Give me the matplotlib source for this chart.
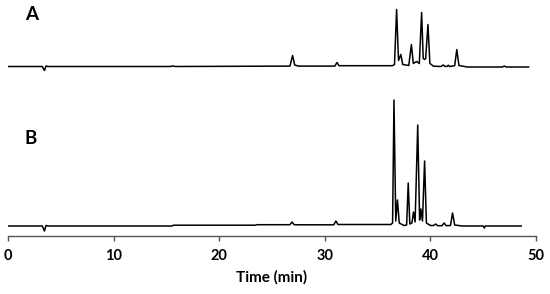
import matplotlib
matplotlib.use("Agg")
import matplotlib.pyplot as plt

# Trace A: (time in min, signal) vertices (signal in arbitrary units)
time_a = [0, 3.25, 3.45, 3.6, 3.8, 15.4, 15.6, 15.8, 26.7, 26.95, 27.15, 27.5, 30.95, 31.15, 31.35,
          36.4, 36.6, 36.8, 36.98, 37.2, 37.38, 37.95, 38.2, 38.38, 38.7, 38.95, 39.17, 39.32,
          39.45, 39.55, 39.77, 39.95, 40.3, 41.0, 41.2, 41.4, 41.6, 41.7, 41.8, 42.3, 42.5,
          42.7, 43.5, 46.8, 47.0, 47.2, 49.3]
signal_a = [0, 0, -4, 0.5, 0, 0, 0.6, 0, 0.4, 11, 1.5, 0.4, 0.4, 4, 0.8,
            0.8, 2, 57, 6, 12, 2, 1, 22, 3, 5, 3, 54, 8,
            7, 8, 42, 3, 0.3, 0, 1.5, 0, 0.2, 1.3, 0, 0.8, 17,
            1, -0.5, -0.5, 0.4, -0.5, -0.5]

# Trace B
time_b = [0, 3.25, 3.45, 3.6, 3.8, 15.5, 15.7, 23.4, 23.6, 26.7, 26.9, 27.1, 27.5, 30.85, 31.05,
          31.25, 36.25, 36.42, 36.55, 36.72, 36.88, 37.05, 37.5, 37.75, 37.9, 38.05, 38.25, 38.4,
          38.55, 38.8, 38.98, 39.1, 39.25, 39.45, 39.62, 40.0, 40.3, 40.5, 40.7, 41.1, 41.3,
          41.5, 41.9, 42.1, 42.3, 43.0, 45.0, 45.1, 45.2, 48.6]
signal_b = [0, 0, -5, 0.5, 0, 0, 0.8, 0.8, 1.3, 1.3, 4, 1.3, 1.2, 1.2, 5,
            1.5, 1.5, 3, 126, 5, 26, 3, 0.5, 1, 43, 2, 3, 14,
            4, 101, 6, 17, 5, 65, 3, 0.5, 0.5, 2, 0.3, 0.3, 3,
            0.3, 0.5, 13, 1, 0, 0, -2, 0, 0]

x_ticks = [0, 10, 20, 30, 40, 50]
x_label = "Time (min)"
panel_labels = ["A", "B"]

plt.rcParams['font.family'] = ['Lato', 'DejaVu Sans']

fig = plt.figure(figsize=(5.5, 2.94), dpi=100)
ax = fig.add_axes([8 / 550, 1 - 235.5 / 294, 528 / 550, 235.5 / 294])

base_a = 169
base_b = 9.5
ax.plot(time_a, [v + base_a for v in signal_a], color='black', lw=1.1, solid_joinstyle='round')
ax.plot(time_b, [v + base_b for v in signal_b], color='black', lw=1.1, solid_joinstyle='round')

ax.set_xlim(0, 50)
ax.set_ylim(0, 235.5)
for s in ['top', 'right', 'left']:
    ax.spines[s].set_visible(False)
ax.spines['bottom'].set_color('#555555')
ax.spines['bottom'].set_linewidth(1.0)
ax.set_yticks([])
ax.set_xticks(x_ticks)
ax.tick_params(axis='x', direction='out', length=3.5, width=1.0, color='#555555', pad=6,
               labelsize=10.5)
for lbl in ax.get_xticklabels():
    lbl.set_fontweight('bold')
ax.set_xlabel(x_label, fontsize=11, fontweight='bold', labelpad=5)

ax.text(2.2, 235.5 - 14, panel_labels[0], fontsize=13.5, fontweight='bold', ha='center', va='center')
ax.text(2.1, 235.5 - 139, panel_labels[1], fontsize=13.5, fontweight='bold', ha='center', va='center')

fig.savefig("out.png", dpi=100)
